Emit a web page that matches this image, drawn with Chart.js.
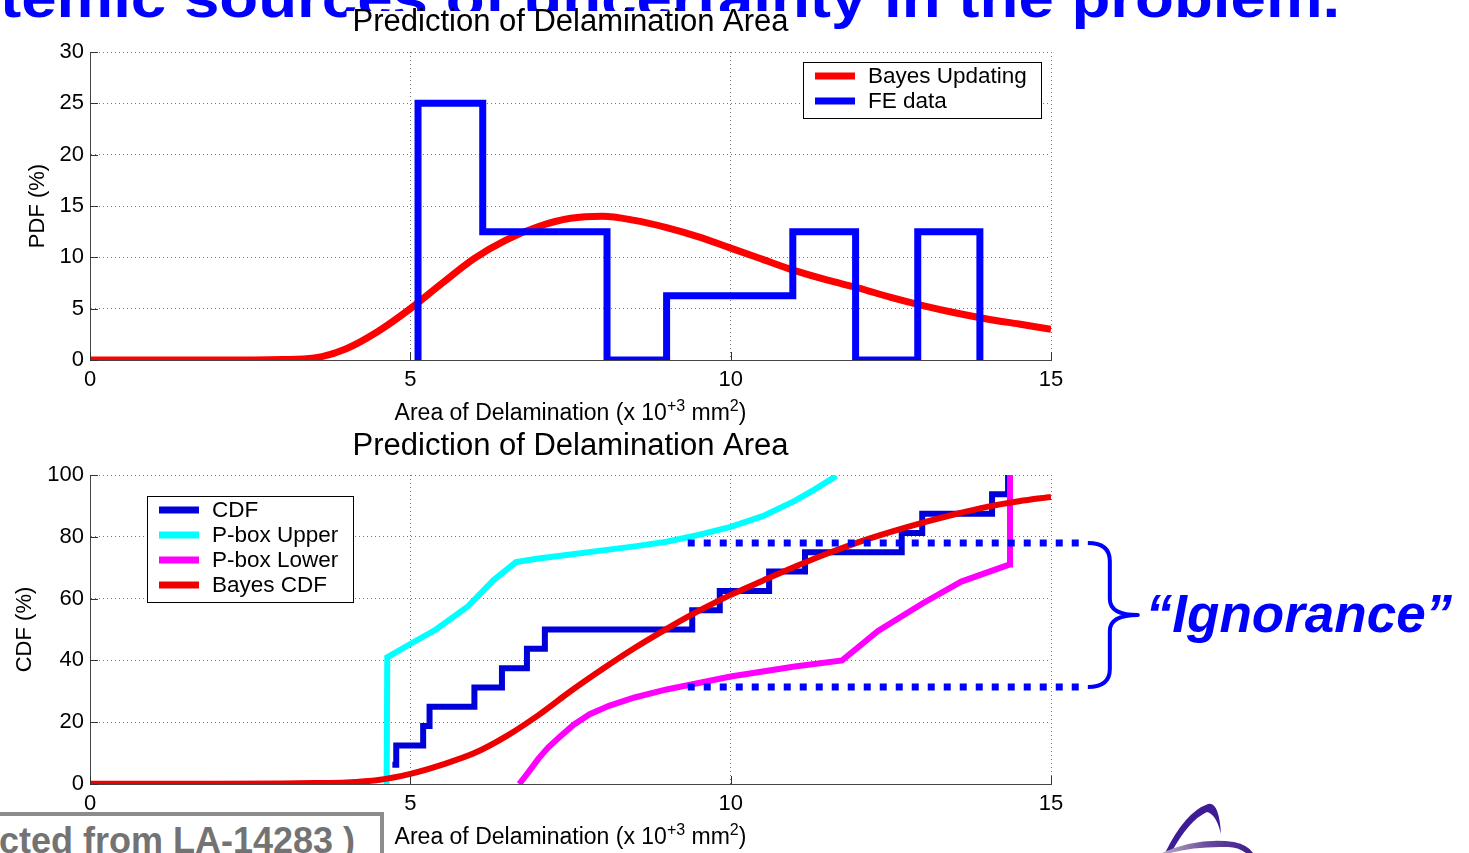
<!DOCTYPE html>
<html>
<head>
<meta charset="utf-8">
<title>Prediction of Delamination Area</title>
<script src="https://cdn.jsdelivr.net/npm/chart.js@4/dist/chart.umd.min.js"></script>
<style>
  html, body { margin: 0; padding: 0; background: #fff; }
  body { position: relative; width: 1469px; height: 853px; overflow: hidden; font-family: "Liberation Sans", Arial, sans-serif; }
  #heading { position: absolute; left: 0; top: -29px; font: bold 55px "Liberation Sans", Arial, sans-serif; line-height: 55px; color: #0000ff; white-space: nowrap; transform-origin: 0 0; transform: scaleX(1.157); }
  canvas { position: absolute; left: 0; }
  #pdfChart { top: 0; }
  #cdfChart { top: 420px; }
  #source { position: absolute; left: -20px; top: 812px; width: 404px; height: 70px; border: 4px solid #8c8c8c; box-sizing: border-box; background: #fff; }
  #source span { position: absolute; right: 25px; top: 4px; font: bold 36px "Liberation Sans", Arial, sans-serif; color: #737373; white-space: nowrap; }
  #logo { position: absolute; left: 1140px; top: 790px; }
</style>
</head>
<body>
<div id="heading">temic sources of uncertainty in the problem.</div>
<canvas id="pdfChart" width="1469" height="430"></canvas>
<canvas id="cdfChart" width="1469" height="433"></canvas>
<div id="source"><span>cted from LA-14283 )</span></div>
<svg id="logo" width="140" height="63" viewBox="0 0 140 63">
  <defs>
    <linearGradient id="swoosh" x1="0" x2="1" y1="0" y2="0">
      <stop offset="0" stop-color="#b8b0c0"/>
      <stop offset="0.5" stop-color="#6a4a9a"/>
      <stop offset="1" stop-color="#3a1a90"/>
    </linearGradient>
  </defs>
  <path d="M25 63 Q45 22 68 14 Q79 11 81 44 Q76 24 67 22 Q49 30 31 63 Z" fill="#3f1c95"/>
  <path d="M22 63 Q58 47 94 52 Q108 55 113 63 L106 63 Q98 57 88 57 Q56 56 30 63 Z" fill="url(#swoosh)"/>
</svg>

<script>
// ---- top panel: PDF ----
const pdfX     = [0, 1, 2, 3, 3.5, 4, 4.5, 5, 5.5, 6, 6.5, 7, 7.5, 8, 8.5, 9, 9.5, 10, 10.5, 11, 11.5, 12, 12.5, 13, 13.5, 14, 14.5, 15];
const bayesPdf = [0, 0, 0, 0.05, 0.2, 1.1, 2.8, 5.0, 7.5, 9.9, 11.7, 13.0, 13.8, 14.0, 13.6, 12.9, 12.0, 10.9, 9.8, 8.7, 7.8, 7.0, 6.1, 5.3, 4.6, 4.0, 3.5, 3.0];

// FE data histogram (bin edges and bar heights, %)
const feEdges   = [5.12, 6.13, 7.1, 8.07, 9.0, 9.98, 10.97, 11.95, 12.92, 13.89];
const feHeights = [25, 12.5, 12.5, 0, 6.25, 6.25, 12.5, 0, 12.5];

// ---- bottom panel: CDF ----
const cdfX = [4.72, 4.78, 5.2, 5.3, 6.0, 6.43, 6.82, 7.1, 9.4, 9.83, 10.6, 11.16, 12.67, 12.99, 14.08, 14.33];
const cdfY = [6.25, 12.5, 18.75, 25, 31.25, 37.5, 43.75, 50, 56.25, 62.5, 68.75, 75, 81.25, 87.5, 93.75, 100];

const upperX = [4.63, 4.64, 5.0, 5.4, 5.9, 6.3, 6.65, 7.0, 7.5, 8.0, 8.5, 9.0, 9.5, 10.0, 10.5, 11.0, 11.3, 11.65];
const upperY = [0, 41, 45.3, 50, 57.5, 66, 71.8, 73, 74.3, 75.6, 76.9, 78.4, 80.6, 83.2, 86.7, 91.6, 95.2, 99.7];

const lowerX = [6.7, 6.85, 7.0, 7.15, 7.33, 7.55, 7.8, 8.1, 8.5, 9.0, 9.5, 10.0, 11.0, 11.74, 12.3, 13.0, 13.6, 14.35, 14.36];
const lowerY = [0, 4, 8.2, 11.8, 15.2, 19.2, 22.6, 25.3, 28, 30.6, 32.7, 34.8, 38, 40, 49.5, 58.5, 65.5, 71, 100];

const bayesCdfX = [0, 2, 3, 3.5, 4, 4.5, 5, 5.5, 6, 6.5, 7, 7.5, 8, 8.5, 9, 9.5, 10, 10.5, 11, 11.5, 12, 12.5, 13, 13.5, 14, 14.5, 15];
const bayesCdf  = [0.1, 0.1, 0.2, 0.3, 0.5, 1.3, 3.3, 6.3, 10.0, 15.5, 22.3, 30.0, 37.2, 44.0, 50.2, 56.0, 61.2, 65.8, 70.3, 74.5, 78.3, 81.6, 84.6, 87.3, 89.7, 91.5, 92.9];

// "Ignorance" band (CDF %) and its x extent
const ignoranceBand = [31.4, 78.0];
const ignoranceFrom = 9.33;
const ignoranceTo = 15.45;

const FONT = '"Liberation Sans", Arial, sans-serif';

function pts(xs, ys) {
  return xs.map((x, i) => ({ x: x, y: ys[i] }));
}

function histPoints(edges, heights) {
  const out = [{ x: edges[0], y: 0 }];
  heights.forEach((h, i) => out.push({ x: edges[i + 1], y: h }));
  out.push({ x: edges[edges.length - 1], y: 0 });
  return out;
}

// matlab-ish decorations: white box behind title, inward ticks, legend box, x label with superscripts
function matlabPlugin(legendPos) {
  return {
    id: 'matlab',
    beforeDraw(chart) {
      const tb = chart.titleBlock;
      if (!tb || !legendPos.maskTitle) return;
      const ctx = chart.ctx;
      ctx.save();
      ctx.font = tb.options.font.size + 'px ' + FONT;
      const w = ctx.measureText(tb.options.text).width;
      const cx = tb.left + tb.width / 2;
      ctx.fillStyle = '#fff';
      ctx.fillRect(cx - w / 2 - 6, 11, w + 12, 30);
      ctx.restore();
    },
    afterDraw(chart) {
      const ctx = chart.ctx;
      const { left, right, top, bottom } = chart.chartArea;
      const xs = chart.scales.x, ys = chart.scales.y;
      ctx.save();
      // inward ticks
      ctx.strokeStyle = '#333';
      ctx.lineWidth = 1;
      ctx.beginPath();
      xs.ticks.forEach(t => {
        const px = Math.round(xs.getPixelForValue(t.value)) + 0.5;
        ctx.moveTo(px, bottom); ctx.lineTo(px, bottom - 8);
      });
      ys.ticks.forEach(t => {
        const py = Math.round(ys.getPixelForValue(t.value)) + 0.5;
        ctx.moveTo(left, py); ctx.lineTo(left + 8, py);
      });
      ctx.stroke();

      // x axis label with superscripts
      const parts = [['Area of Delamination (x 10', false], ['+3', true], [' mm', false], ['2', true], [')', false]];
      const base = '23px ' + FONT, sup = '16px ' + FONT;
      let total = 0;
      parts.forEach(p => { ctx.font = p[1] ? sup : base; total += ctx.measureText(p[0]).width; });
      let x = (left + right) / 2 - total / 2;
      const baseY = bottom + 60;
      ctx.fillStyle = '#000';
      ctx.textBaseline = 'alphabetic';
      ctx.textAlign = 'left';
      parts.forEach(p => {
        ctx.font = p[1] ? sup : base;
        ctx.fillText(p[0], x, p[1] ? baseY - 9 : baseY);
        x += ctx.measureText(p[0]).width;
      });

      // legend box
      const items = chart.data.datasets;
      const bw = legendPos.w, bh = 14 + 25 * (items.length - 1) + 17;
      const bx = legendPos.fromRight ? right - legendPos.dx - bw : left + legendPos.dx;
      const by = top + legendPos.dy;
      ctx.fillStyle = '#fff';
      ctx.fillRect(bx, by, bw, bh);
      ctx.strokeStyle = '#000';
      ctx.lineWidth = 1;
      ctx.strokeRect(Math.round(bx) + 0.5, Math.round(by) + 0.5, bw, bh);
      ctx.font = '22.5px ' + FONT;
      ctx.textBaseline = 'middle';
      items.forEach((ds, i) => {
        const ly = by + 14 + 25 * i;
        ctx.strokeStyle = ds.borderColor;
        ctx.lineWidth = 7;
        ctx.lineCap = 'butt';
        ctx.beginPath();
        ctx.moveTo(bx + 12, ly); ctx.lineTo(bx + 52, ly);
        ctx.stroke();
        ctx.fillStyle = '#000';
        ctx.fillText(ds.label, bx + 65, ly + 1);
      });
      ctx.restore();
    }
  };
}

const ignorancePlugin = {
  id: 'ignorance',
  afterDatasetsDraw(chart) {
    const ctx = chart.ctx;
    const xs = chart.scales.x, ys = chart.scales.y;
    const x0 = xs.getPixelForValue(ignoranceFrom), x1 = xs.getPixelForValue(ignoranceTo);
    const yU = ys.getPixelForValue(ignoranceBand[1]), yL = ys.getPixelForValue(ignoranceBand[0]);
    ctx.save();
    ctx.strokeStyle = '#0000ff';
    ctx.lineWidth = 7;
    ctx.lineCap = 'butt';
    ctx.setLineDash([7, 9]);
    ctx.beginPath();
    ctx.moveTo(x0, yU); ctx.lineTo(x1, yU);
    ctx.moveTo(x0, yL); ctx.lineTo(x1, yL);
    ctx.stroke();

    // curly brace
    const bx = x1 + 8, mid = (yU + yL) / 2, sx = bx + 22;
    ctx.setLineDash([]);
    ctx.lineWidth = 4;
    ctx.lineJoin = 'round';
    ctx.beginPath();
    ctx.moveTo(bx, yU);
    ctx.quadraticCurveTo(sx, yU, sx, yU + 18);
    ctx.lineTo(sx, mid - 16);
    ctx.quadraticCurveTo(sx, mid, bx + 50, mid);
    ctx.quadraticCurveTo(sx, mid, sx, mid + 16);
    ctx.lineTo(sx, yL - 18);
    ctx.quadraticCurveTo(sx, yL, bx, yL);
    ctx.stroke();

    ctx.font = 'italic bold 53px ' + FONT;
    ctx.fillStyle = '#0000ff';
    ctx.textBaseline = 'alphabetic';
    ctx.textAlign = 'left';
    ctx.fillText('\u201cIgnorance\u201d', bx + 58, mid + 17);
    ctx.restore();
  }
};

function axes(yMax, yStep, yTitle, yTitlePad, xHeight) {
  const grid = { color: '#777', lineWidth: 1, drawTicks: false };
  const border = { color: '#444', width: 1, dash: [1, 3] };
  return {
    x: {
      type: 'linear', min: 0, max: 15,
      grid: grid, border: border,
      ticks: { stepSize: 5, color: '#000', font: { size: 22, family: FONT }, padding: 7, maxRotation: 0 },
      afterFit: s => { s.height = xHeight; }
    },
    y: {
      min: 0, max: yMax,
      grid: grid, border: border,
      ticks: { stepSize: yStep, color: '#000', font: { size: 22, family: FONT }, padding: 6 },
      title: { display: true, text: yTitle, color: '#000', font: { size: 22, family: FONT }, padding: { top: yTitlePad, bottom: 0 } },
      afterFit: s => { s.width = 90; }
    }
  };
}

const common = (titlePad, scales) => ({
  responsive: false,
  animation: false,
  layout: { padding: { left: 0, right: 418, top: 0, bottom: 0 } },
  plugins: {
    legend: { display: false },
    tooltip: { enabled: false },
    title: {
      display: true, text: 'Prediction of Delamination Area', fullSize: false,
      color: '#000', font: { size: 31, family: FONT, weight: 'normal' }, padding: titlePad
    }
  },
  scales: scales
});

new Chart(document.getElementById('pdfChart'), {
  type: 'line',
  data: {
    datasets: [
      { label: 'Bayes Updating', data: pts(pdfX, bayesPdf), borderColor: '#ff0000', borderWidth: 7,
        pointRadius: 0, cubicInterpolationMode: 'monotone', order: 1 },
      { label: 'FE data', data: histPoints(feEdges, feHeights), borderColor: '#0000ff', borderWidth: 7,
        pointRadius: 0, stepped: 'after', borderJoinStyle: 'miter', order: 0 }
    ]
  },
  options: common({ top: 3.4, bottom: 11.4 }, axes(30, 5, 'PDF (%)', 25, 70)),
  plugins: [matlabPlugin({ fromRight: true, dx: 10, dy: 10, w: 238, maskTitle: true })]
});

new Chart(document.getElementById('cdfChart'), {
  type: 'line',
  data: {
    datasets: [
      { label: 'CDF', data: pts(cdfX, cdfY), borderColor: '#0000d8', borderWidth: 6,
        pointRadius: 0, stepped: 'before', borderJoinStyle: 'miter', order: 3 },
      { label: 'P-box Upper', data: pts(upperX, upperY), borderColor: '#00ffff', borderWidth: 6,
        pointRadius: 0, order: 2 },
      { label: 'P-box Lower', data: pts(lowerX, lowerY), borderColor: '#ff00ff', borderWidth: 6,
        pointRadius: 0, order: 1 },
      { label: 'Bayes CDF', data: pts(bayesCdfX, bayesCdf), borderColor: '#ee0000', borderWidth: 6,
        pointRadius: 0, cubicInterpolationMode: 'monotone', order: 0 }
    ]
  },
  options: common({ top: 7.4, bottom: 10.4 }, axes(100, 20, 'CDF (%)', 12, 69)),
  plugins: [matlabPlugin({ fromRight: false, dx: 57, dy: 21, w: 206, maskTitle: false }), ignorancePlugin]
});
</script>
</body>
</html>
